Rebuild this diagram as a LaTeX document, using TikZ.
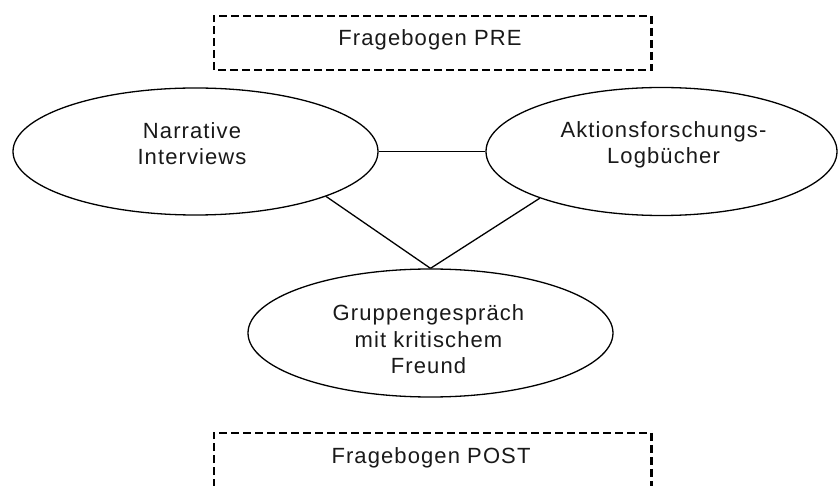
\documentclass[tikz,border=0pt]{standalone}
\usepackage{fontspec}
\usetikzlibrary{shapes.geometric}
\newfontfamily\diafont[LetterSpace=5]{Liberation Sans}

\tikzset{
  lbl/.style={inner sep=0pt, align=center, anchor=base,
    font=\diafont\fontsize{22}{26}\selectfont, text=black!90},
  blob/.style={ellipse, draw=black, line width=1.3pt, inner sep=0pt},
  link/.style={draw=black, line width=1.3pt},
  frame/.style={inner sep=0pt, minimum width=437, minimum height=54},
  thindash/.style={line width=1.5pt, dash pattern=on 8pt off 4pt},
  thickdash/.style={line width=2.6pt, dash pattern=on 8pt off 4pt}
}

\begin{document}
\begin{tikzpicture}[x=1pt, y=-1pt]
  \useasboundingbox[fill=white] (0,0) rectangle (838,486);

  % questionnaire frames
  \node[frame] (pre)  at (432.5,43) {};
  \node[frame] (post) at (432.5,460) {};
  \foreach \f in {pre,post}{
    \draw[thindash]  (\f.south west) -- (\f.north west) -- (\f.north east);
    \draw[thickdash] (\f.north east) -- (\f.south east) -- (\f.south west);
  }
  \node[lbl] (pretext)  at (430,46)  {Fragebogen PRE};
  \node[lbl] (posttext) at (431,463) {Fragebogen POST};

  % methods
  \node[blob, minimum width=365, minimum height=127] (L) at (195.5,151.5) {};
  \node[blob, minimum width=351, minimum height=128] (R) at (661.5,151.5) {};
  \node[blob, minimum width=365, minimum height=128] (C) at (430.5,333) {};

  % labels, placed by the baseline of their last line
  \node[lbl] (Ltext) at (192,165)   {Narrative\\Interviews};
  \node[lbl] (Rtext) at (663.5,164) {Aktionsforschungs-\\Logbücher};
  \node[lbl] (Ctext) at (428.5,373) {Gruppengespräch\\mit kritischem\\Freund};

  % connections
  \draw[link] (L.east) -- (R.west);
  \draw[link] (L.-19.4) -- (C.north);
  \draw[link] (R.-159.6) -- (C.north);
\end{tikzpicture}
\end{document}
